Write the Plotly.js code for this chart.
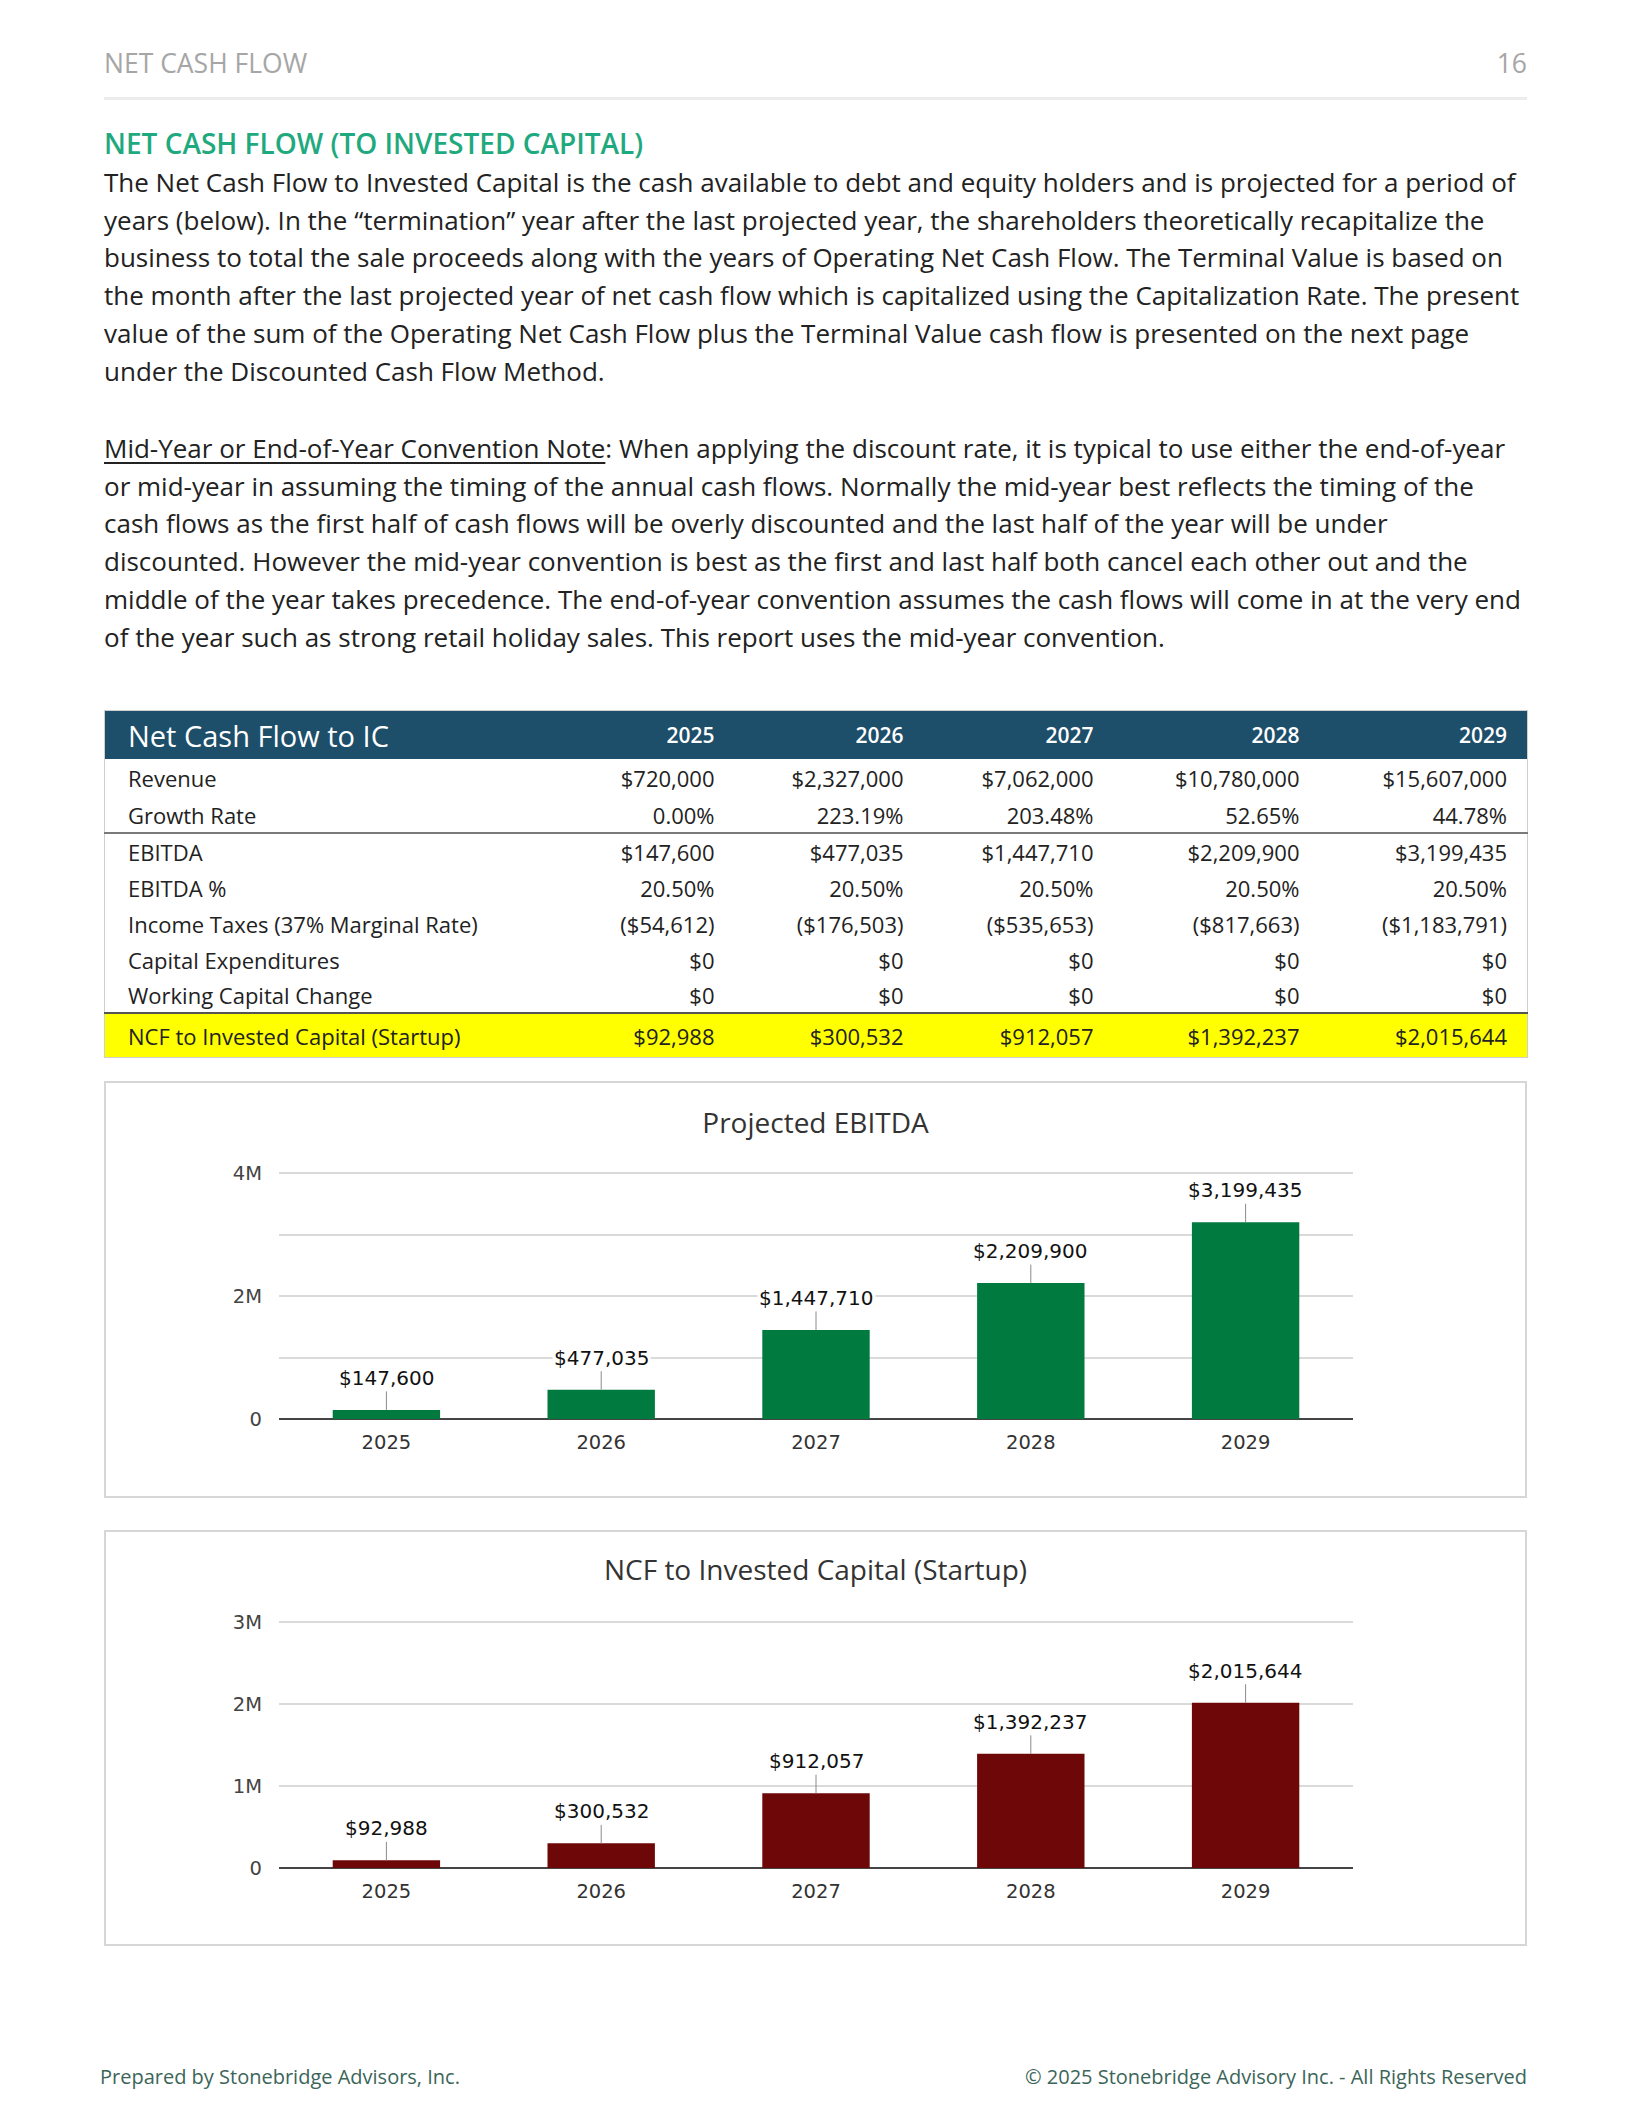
<!DOCTYPE html>
<html>
<head>
<meta charset="utf-8">
<script src="https://cdn.plot.ly/plotly-3.0.1.min.js"></script>
<style>
  html, body { margin:0; padding:0; background:#fff; }
  #page { position:relative; width:1631px; height:2113px; background:#fff; font-family:'Open Sans', sans-serif; color:#222; overflow:hidden; }
  .abs { position:absolute; white-space:nowrap; }
  #hdrL { left:104px; top:45px; font-size:26.5px; line-height:36px; color:#a6a6a6; }
  #hdrR { right:104px; top:45px; font-size:26.5px; line-height:36px; color:#a6a6a6; }
  #rule { left:104px; top:97px; width:1423px; height:3px; background:#ececec; }
  #sec { left:104px; top:123px; font-size:28px; line-height:40px; color:#1fa97e; font-weight:600; }
  .para { left:104px; font-size:26px; line-height:37.7px; color:#222; }
  #p1 { top:164px; }
  #p2 { top:430px; }
  u { text-decoration:underline; text-underline-offset:4px; }
  #tbl { position:absolute; left:104px; top:710px; width:1423px; border-collapse:collapse; table-layout:fixed; font-size:22px; color:#222; border:1px solid #cfcfcf; }
  #tbl th { background:#1d4e6a; color:#fff; height:48px; padding:0 20px; text-align:right; font-weight:600; font-size:21px; }
  #tbl th.lab { text-align:left; font-size:29px; font-weight:500; padding-left:23px; }
  #tbl td { padding:0 20px; height:36px; text-align:right; white-space:nowrap; }
  #tbl td.lab { text-align:left; padding-left:23px; }
  #tbl tr.first td { height:38px; }
  #tbl tr.sepBelow td { border-bottom:2px solid #7a7a7a; height:35px; }
  #tbl tr.sepBelow2 td { border-bottom:2px solid #555; height:34px; }
  #tbl tr.total td { background:#ffff00; height:43px; }
  .box { position:absolute; left:104px; width:1419px; border:2px solid #d6d6d6; background:#fff; }
  #box1 { top:1081px; height:413px; }
  #box2 { top:1530px; height:412px; }
  #footL { left:100px; top:2063px; font-size:20px; line-height:28px; color:#3b6559; }
  #footR { right:104px; top:2063px; font-size:20px; line-height:28px; color:#3b6559; }
</style>
</head>
<body>
<div id="page">
  <div id="hdrL" class="abs">NET CASH FLOW</div>
  <div id="hdrR" class="abs">16</div>
  <div id="rule" class="abs"></div>
  <div id="sec" class="abs">NET CASH FLOW (TO INVESTED CAPITAL)</div>
  <div id="p1" class="abs para">The Net Cash Flow to Invested Capital is the cash available to debt and equity holders and is projected for a period of<br>years (below). In the “termination” year after the last projected year, the shareholders theoretically recapitalize the<br>business to total the sale proceeds along with the years of Operating Net Cash Flow. The Terminal Value is based on<br>the month after the last projected year of net cash flow which is capitalized using the Capitalization Rate. The present<br>value of the sum of the Operating Net Cash Flow plus the Terminal Value cash flow is presented on the next page<br>under the Discounted Cash Flow Method.</div>
  <div id="p2" class="abs para"><u>Mid-Year or End-of-Year Convention Note</u>: When applying the discount rate, it is typical to use either the end-of-year<br>or mid-year in assuming the timing of the annual cash flows. Normally the mid-year best reflects the timing of the<br>cash flows as the first half of cash flows will be overly discounted and the last half of the year will be under<br>discounted. However the mid-year convention is best as the first and last half both cancel each other out and the<br>middle of the year takes precedence. The end-of-year convention assumes the cash flows will come in at the very end<br>of the year such as strong retail holiday sales. This report uses the mid-year convention.</div>
  <table id="tbl"></table>
  <div id="box1" class="box"><div id="chart1"></div></div>
  <div id="box2" class="box"><div id="chart2"></div></div>
  <div id="footL" class="abs">Prepared by Stonebridge Advisors, Inc.</div>
  <div id="footR" class="abs">© 2025 Stonebridge Advisory Inc. - All Rights Reserved</div>
</div>
<script>
// ---------- DATA ----------
const years = ['2025', '2026', '2027', '2028', '2029'];
const revenue = [720000, 2327000, 7062000, 10780000, 15607000];
const growthRate = [0.00, 223.19, 203.48, 52.65, 44.78];
const ebitda = [147600, 477035, 1447710, 2209900, 3199435];
const ebitdaPct = [20.50, 20.50, 20.50, 20.50, 20.50];
const incomeTaxes = [-54612, -176503, -535653, -817663, -1183791];
const capex = [0, 0, 0, 0, 0];
const workingCapitalChange = [0, 0, 0, 0, 0];
const ncfInvestedCapital = [92988, 300532, 912057, 1392237, 2015644];

const ebitdaTickVals = [0, 1000000, 2000000, 3000000, 4000000];
const ebitdaTickText = ['0', '', '2M', '', '4M'];
const ncfTickVals = [0, 1000000, 2000000, 3000000];
const ncfTickText = ['0', '1M', '2M', '3M'];

// ---------- HELPERS ----------
function money(v) {
  const s = '$' + Math.abs(v).toLocaleString('en-US');
  return v < 0 ? '(' + s + ')' : s;
}
function pct(v) { return v.toFixed(2) + '%'; }

// ---------- TABLE ----------
(function buildTable() {
  const widths = [441, 189, 189, 190, 206, 208];
  let html = '<colgroup>' + widths.map(w => '<col style="width:' + w + 'px">').join('') + '</colgroup>';
  html += '<thead><tr><th class="lab">Net Cash Flow to IC</th>' + years.map(y => '<th>' + y + '</th>').join('') + '</tr></thead><tbody>';
  const rows = [
    ['Revenue', revenue.map(money), 'first'],
    ['Growth Rate', growthRate.map(pct), 'sepBelow'],
    ['EBITDA', ebitda.map(money), ''],
    ['EBITDA %', ebitdaPct.map(pct), ''],
    ['Income Taxes (37% Marginal Rate)', incomeTaxes.map(money), ''],
    ['Capital Expenditures', capex.map(money), ''],
    ['Working Capital Change', workingCapitalChange.map(money), 'sepBelow2'],
    ['NCF to Invested Capital (Startup)', ncfInvestedCapital.map(money), 'total']
  ];
  rows.forEach(r => {
    html += '<tr class="' + r[2] + '"><td class="lab">' + r[0] + '</td>' + r[1].map(c => '<td>' + c + '</td>').join('') + '</tr>';
  });
  html += '</tbody>';
  document.getElementById('tbl').innerHTML = html;
})();

// ---------- CHARTS ----------
function makeChart(id, vals, color, tickvals, ticktext, yMax, title, h, titleOffset) {
  const trace = {
    type: 'bar', x: years, y: vals, width: 0.5,
    marker: { color: color }, hoverinfo: 'skip'
  };
  // category axis: annotation x uses the category serial number
  const annotations = years.map((yr, i) => ({
    x: i, y: vals[i], xref: 'x', yref: 'y',
    text: money(vals[i]), showarrow: true, arrowhead: 0, arrowwidth: 1,
    arrowcolor: '#8a8a8a', ax: 0, ay: -32, standoff: 0,
    bgcolor: '#ffffff', borderpad: 1,
    font: { family: 'DejaVu Sans', size: 20, color: '#111' }
  }));
  // top gridline (yMax) sits 90px below the chart top; 0 sits 246px lower
  const pad = 1.02;
  const plotH = Math.round(246 * pad);
  const top = 90 - (plotH - 246);
  const layout = {
    width: 1419, height: h,
    margin: { l: 173, r: 172, t: top, b: h - top - plotH },
    paper_bgcolor: '#ffffff', plot_bgcolor: '#ffffff',
    showlegend: false,
    title: {
      text: title, xref: 'container', x: 0.5, xanchor: 'center',
      yref: 'container', y: 1 - titleOffset / h, yanchor: 'middle',
      font: { family: 'Open Sans', size: 28, color: '#333' }
    },
    xaxis: {
      type: 'category', range: [-0.5, years.length - 0.5], autorange: false,
      showgrid: false, showline: false, zeroline: false,
      ticks: '', ticklabelstandoff: 9,
      tickfont: { family: 'DejaVu Sans', size: 19.5, color: '#333' }, fixedrange: true
    },
    yaxis: {
      range: [0, yMax * plotH / 246], autorange: false, tickvals: tickvals, ticktext: ticktext,
      showgrid: true, gridcolor: '#dadada', gridwidth: 2,
      zeroline: true, zerolinecolor: '#444', zerolinewidth: 2,
      showline: false, ticks: '', ticklabelstandoff: 16,
      tickfont: { family: 'DejaVu Sans', size: 19.5, color: '#444' }, fixedrange: true
    },
    annotations: annotations,
    bargap: 0.5
  };
  Plotly.newPlot(id, [trace], layout, { staticPlot: true, displayModeBar: false });
}

makeChart('chart1', ebitda, '#007a3e', ebitdaTickVals, ebitdaTickText, 4000000, 'Projected EBITDA', 413, 40);
makeChart('chart2', ncfInvestedCapital, '#6e0707', ncfTickVals, ncfTickText, 3000000, 'NCF to Invested Capital (Startup)', 412, 38);
</script>
</body>
</html>
